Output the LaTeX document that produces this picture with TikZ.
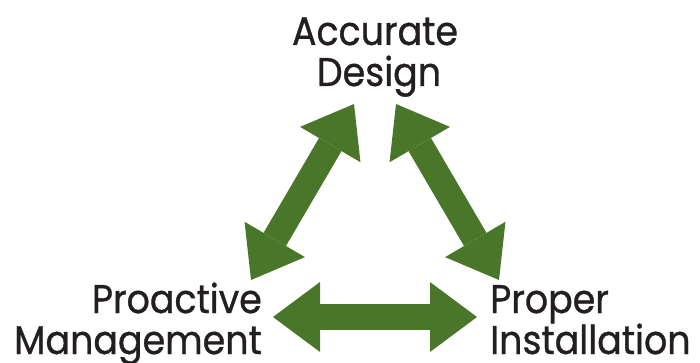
\documentclass[tikz,border=0pt]{standalone}
\usepackage{fontspec}
\setmainfont{Poppins}[FakeStretch=0.91,FakeBold=0.8]
\usetikzlibrary{arrows.meta}
\definecolor{leaf}{RGB}{74,118,42}
\definecolor{ink}{RGB}{35,31,32}
\tikzset{
  lbl/.style={inner sep=0pt, text=ink, font=\fontsize{40}{41}\selectfont},
  bigarrow/.style={draw=leaf, line width=26pt,
    {Triangle[length=47pt,width=70pt,line width=0pt]}-{Triangle[length=47pt,width=70pt,line width=0pt]}}
}
\begin{document}
\begin{tikzpicture}[x=1pt,y=1pt]
\useasboundingbox (0,0) rectangle (700,362);
% labels
\node[lbl, anchor=base] (acc) at (375,317) {Accurate};
\node[lbl, anchor=base] (des) at (379,276) {Design};
\node[lbl, anchor=base east] (pro) at (262,49) {Proactive};
\node[lbl, anchor=base east] (man) at (262,8) {Management};
\node[lbl, anchor=base west] (prp) at (490,49) {Proper};
\node[lbl, anchor=base west] (ins) at (490,8) {Installation};
% arrow ends
\coordinate (l1) at (251,82);
\coordinate (l2) at (354,258);
\coordinate (r1) at (396,258);
\coordinate (r2) at (499,82);
\coordinate (b1) at (273,45);
\coordinate (b2) at (477,45);
\draw[bigarrow] (l1) -- (l2);
\draw[bigarrow] (r1) -- (r2);
\draw[bigarrow] (b1) -- (b2);
\end{tikzpicture}
\end{document}
